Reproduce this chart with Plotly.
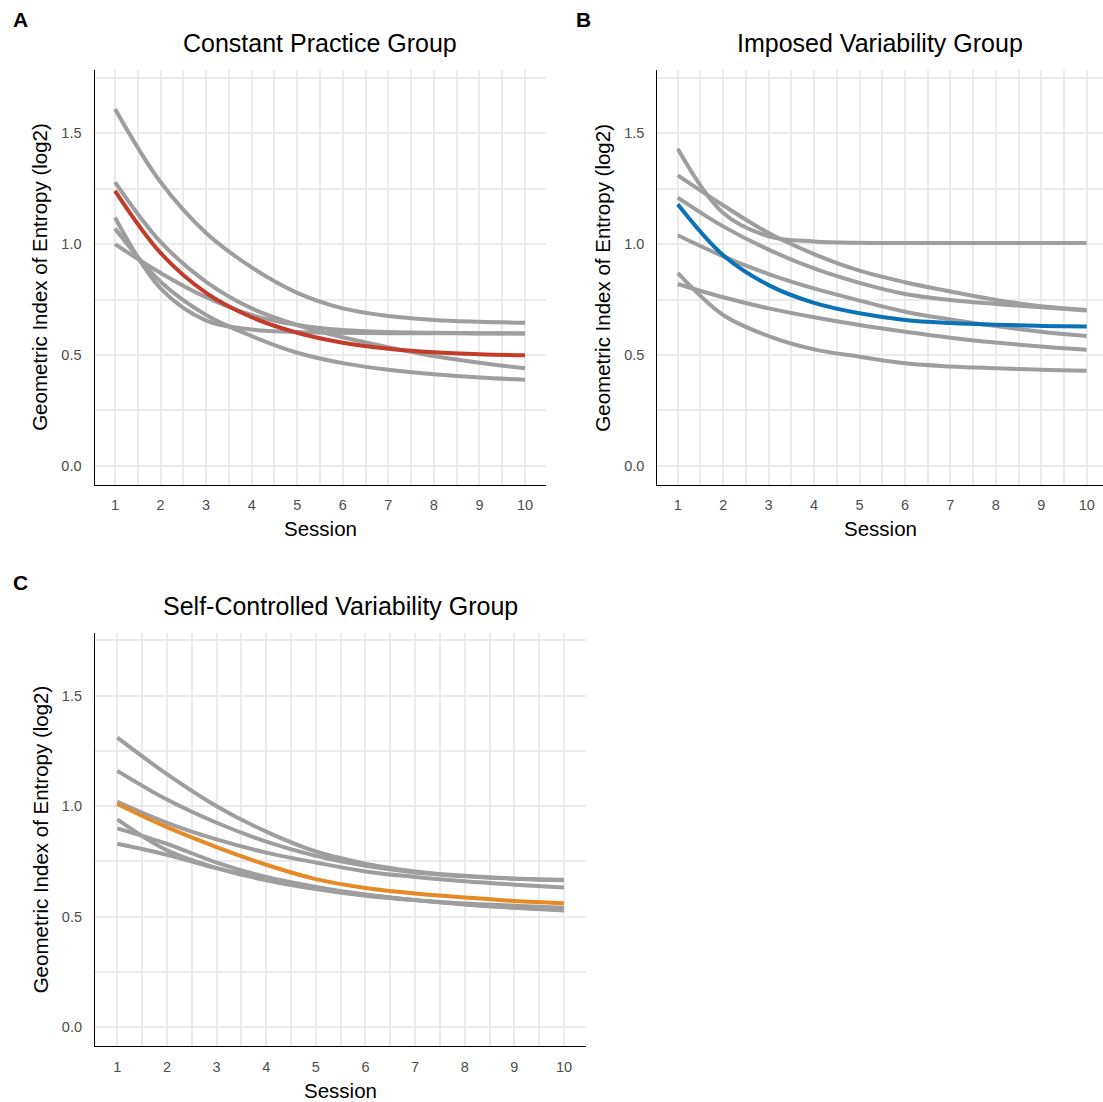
import plotly.graph_objects as go

W, H = 1103, 1102

sessions = [1, 2, 3, 4, 5, 6, 7, 8, 9, 10]
x_tick_labels = ["1", "2", "3", "4", "5", "6", "7", "8", "9", "10"]
y_tick_vals = [0.0, 0.5, 1.0, 1.5]
y_tick_labels = ["0.0", "0.5", "1.0", "1.5"]

# Panel A: Constant Practice Group
a_gray_1 = [1.61, 1.28, 1.05, 0.895, 0.78, 0.71, 0.676, 0.658, 0.650, 0.645]
a_gray_2 = [1.28, 1.01, 0.83, 0.71, 0.635, 0.58, 0.535, 0.495, 0.465, 0.44]
a_gray_3 = [1.12, 0.80, 0.655, 0.615, 0.603, 0.600, 0.598, 0.598, 0.597, 0.597]
a_gray_4 = [1.00, 0.87, 0.76, 0.68, 0.635, 0.612, 0.603, 0.600, 0.598, 0.597]
a_gray_5 = [1.07, 0.83, 0.68, 0.585, 0.51, 0.463, 0.433, 0.413, 0.398, 0.388]
a_mean = [1.24, 0.96, 0.78, 0.67, 0.60, 0.555, 0.528, 0.512, 0.503, 0.498]

# Panel B: Imposed Variability Group
b_gray_1 = [1.43, 1.14, 1.035, 1.012, 1.006, 1.005, 1.005, 1.005, 1.005, 1.005]
b_gray_2 = [1.31, 1.175, 1.05, 0.955, 0.88, 0.828, 0.786, 0.748, 0.72, 0.703]
b_gray_3 = [1.21, 1.08, 0.975, 0.89, 0.825, 0.775, 0.748, 0.73, 0.715, 0.70]
b_gray_4 = [1.04, 0.945, 0.865, 0.80, 0.745, 0.695, 0.66, 0.63, 0.605, 0.585]
b_gray_5 = [0.87, 0.68, 0.585, 0.525, 0.492, 0.462, 0.448, 0.44, 0.433, 0.429]
b_gray_6 = [0.82, 0.76, 0.71, 0.67, 0.635, 0.605, 0.578, 0.556, 0.538, 0.523]
b_mean = [1.18, 0.95, 0.815, 0.735, 0.688, 0.658, 0.644, 0.636, 0.631, 0.628]

# Panel C: Self-Controlled Variability Group
c_gray_1 = [1.31, 1.145, 1.0, 0.885, 0.795, 0.74, 0.705, 0.685, 0.673, 0.667]
c_gray_2 = [1.16, 1.03, 0.925, 0.84, 0.775, 0.73, 0.70, 0.683, 0.672, 0.665]
c_gray_3 = [1.02, 0.925, 0.85, 0.79, 0.745, 0.705, 0.68, 0.66, 0.645, 0.632]
c_gray_4 = [0.94, 0.80, 0.72, 0.665, 0.625, 0.595, 0.575, 0.56, 0.55, 0.54]
c_gray_5 = [0.90, 0.83, 0.745, 0.68, 0.635, 0.60, 0.575, 0.555, 0.54, 0.528]
c_gray_6 = [0.83, 0.78, 0.72, 0.67, 0.628, 0.598, 0.575, 0.556, 0.542, 0.532]
c_mean = [1.01, 0.905, 0.815, 0.735, 0.67, 0.63, 0.605, 0.587, 0.571, 0.561]

titles = ["Constant Practice Group", "Imposed Variability Group", "Self-Controlled Variability Group"]
panel_letters = ["A", "B", "C"]
x_title = "Session"
y_title = "Geometric Index of Entropy (log2)"

GRAY = "#9E9E9E"
COLORS = ["#C33B2A", "#0A72B5", "#E68A25"]
FONT = "Liberation Sans, Arial, sans-serif"
GRID = "#EBEBEB"

panels = [
    ([a_gray_1, a_gray_2, a_gray_3, a_gray_4, a_gray_5], a_mean),
    ([b_gray_1, b_gray_2, b_gray_3, b_gray_4, b_gray_5, b_gray_6], b_mean),
    ([c_gray_1, c_gray_2, c_gray_3, c_gray_4, c_gray_5, c_gray_6], c_mean),
]

# pixel geometry of panels: (left, right, top, bottom), x range
geom = [
    (94.5, 545.5, 70.1, 484.6, [0.55, 10.45]),
    (657.3, 1103.0, 70.1, 484.6, [0.55, 10.359]),
    (95.0, 586.3, 632.7, 1046.0, [0.55, 10.45]),
]
Y_RANGE = [-0.085, 1.785]

fig = go.Figure()

for i, (grays, mean) in enumerate(panels):
    xa = "x" if i == 0 else f"x{i+1}"
    ya = "y" if i == 0 else f"y{i+1}"
    for g in grays:
        fig.add_trace(go.Scatter(x=sessions, y=g, mode="lines", xaxis=xa, yaxis=ya,
                                 line=dict(color=GRAY, width=4, shape="spline", smoothing=1.0),
                                 showlegend=False, hoverinfo="skip"))
    fig.add_trace(go.Scatter(x=sessions, y=mean, mode="lines", xaxis=xa, yaxis=ya,
                             line=dict(color=COLORS[i], width=4, shape="spline", smoothing=1.0),
                             showlegend=False))

layout = dict(width=W, height=H, margin=dict(l=0, r=0, t=0, b=0), autosize=False,
              paper_bgcolor="white", plot_bgcolor="white", showlegend=False,
              font=dict(family=FONT, color="black"))

annotations = []
for i, (l, r, t, b, xr) in enumerate(geom):
    xkey = "xaxis" if i == 0 else f"xaxis{i+1}"
    ykey = "yaxis" if i == 0 else f"yaxis{i+1}"
    yanchor = "y" if i == 0 else f"y{i+1}"
    xanchor = "x" if i == 0 else f"x{i+1}"
    layout[xkey] = dict(
        domain=[l / W, r / W], range=xr, anchor=yanchor,
        tickmode="array", tickvals=sessions, ticktext=x_tick_labels,
        showline=True, linecolor="black", linewidth=1.2,
        showgrid=True, gridcolor=GRID, gridwidth=2, zeroline=False,
        ticks="outside", ticklen=7, tickcolor="rgba(0,0,0,0)",
        tickfont=dict(size=14.5, color="#4D4D4D", family=FONT),
        minor=dict(showgrid=True, tick0=0.5, dtick=0.5, gridcolor=GRID, gridwidth=1.6, ticks=""),
        fixedrange=True,
    )
    layout[ykey] = dict(
        domain=[1 - b / H, 1 - t / H], range=Y_RANGE, anchor=xanchor,
        tickmode="array", tickvals=y_tick_vals, ticktext=y_tick_labels,
        showline=True, linecolor="black", linewidth=1.2,
        showgrid=True, gridcolor=GRID, gridwidth=2, zeroline=False,
        ticks="outside", ticklen=9, tickcolor="rgba(0,0,0,0)",
        tickfont=dict(size=14.5, color="#4D4D4D", family=FONT),
        minor=dict(showgrid=True, tick0=0, dtick=0.25, gridcolor=GRID, gridwidth=1.6, ticks=""),
        fixedrange=True,
    )
    cx = (l + r) / 2
    annotations.append(dict(text=titles[i], x=cx / W, y=1 - (t - 27) / H, xref="paper", yref="paper",
                            xanchor="center", yanchor="middle", showarrow=False,
                            font=dict(size=25, family=FONT, color="black")))
    annotations.append(dict(text=x_title, x=cx / W, y=1 - (b + 44) / H, xref="paper", yref="paper",
                            xanchor="center", yanchor="middle", showarrow=False,
                            font=dict(size=20.5, family=FONT, color="black")))
    annotations.append(dict(text=y_title, x=(l - 55) / W, y=1 - ((t + b) / 2) / H, xref="paper", yref="paper",
                            xanchor="center", yanchor="middle", showarrow=False, textangle=-90,
                            font=dict(size=20.5, family=FONT, color="black")))

letter_pos = [(20, 20), (583, 20), (20, 582)]
for letter, (lx, ly) in zip(panel_letters, letter_pos):
    annotations.append(dict(text=f"<b>{letter}</b>", x=lx / W, y=1 - ly / H, xref="paper", yref="paper",
                            xanchor="center", yanchor="middle", showarrow=False,
                            font=dict(size=21, family=FONT, color="black")))

layout["annotations"] = annotations
fig.update_layout(**layout)

fig.write_html("out.html", config={"displayModeBar": False},
               post_script="document.body.style.margin='0';")
